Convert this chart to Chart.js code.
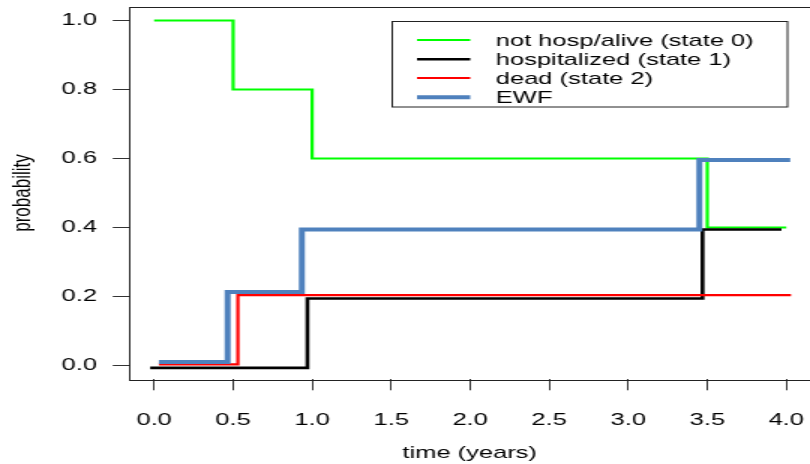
<!DOCTYPE html>
<html>
<head>
<meta charset="utf-8">
<script src="https://cdn.jsdelivr.net/npm/chart.js@4.4.1/dist/chart.umd.min.js"></script>
<style>
  html, body { margin: 0; padding: 0; background: #fff; overflow: hidden; }
  #wrap { width: 540px; height: 464px; transform: scaleX(1.5); transform-origin: 0 0; }
</style>
</head>
<body>
<div id="wrap"><canvas id="stateChart" width="540" height="464"></canvas></div>
<script>
// Werte (Zeit in Jahren, Wahrscheinlichkeit)
var state0Times = [0.0, 0.5, 1.0, 3.5, 4.0];
var state0Probs = [1.0, 0.8, 0.6, 0.4, 0.4];

var state1Times = [-0.025, 0.97, 3.47, 3.97];
var state1Probs = [-0.007, 0.194, 0.394, 0.394];

var state2Times = [0.03, 0.53, 4.03];
var state2Probs = [0.003, 0.204, 0.204];

var ewfTimes = [0.03, 0.465, 0.935, 3.45, 4.025];
var ewfProbs = [0.01, 0.213, 0.394, 0.596, 0.596];

var xTicks = [0.0, 0.5, 1.0, 1.5, 2.0, 2.5, 3.0, 3.5, 4.0];
var yTicks = [0.0, 0.2, 0.4, 0.6, 0.8, 1.0];

var FONT = '"Liberation Sans", Arial, Helvetica, sans-serif';

function toPoints(times, probs) {
  var pts = [];
  for (var i = 0; i < times.length; i++) {
    pts.push({ x: times[i], y: probs[i] });
  }
  return pts;
}

function makeSet(label, times, probs, color, width, order) {
  return {
    label: label,
    data: toPoints(times, probs),
    borderColor: color,
    backgroundColor: color,
    borderWidth: width,
    stepped: 'before',
    pointRadius: 0,
    fill: false,
    order: order
  };
}

// Rahmen wie bei R (rechte Kante liegt ausserhalb des Bildes)
var boxPlugin = {
  id: 'box',
  afterDatasetsDraw: function (chart) {
    var a = chart.chartArea;
    var ctx = chart.ctx;
    ctx.save();
    ctx.strokeStyle = '#222';
    ctx.lineWidth = 1;
    ctx.strokeRect(Math.round(a.left) + 0.5, Math.round(a.top) + 0.5, a.right - a.left + 20, Math.round(a.bottom - a.top));
    ctx.restore();
  }
};

// Legende mit Rahmen oben rechts
var legendPlugin = {
  id: 'boxLegend',
  afterDraw: function (chart) {
    var ctx = chart.ctx;
    var sets = chart.data.datasets;
    ctx.save();
    ctx.strokeStyle = '#222';
    ctx.lineWidth = 1;
    ctx.strokeRect(261.5, 21.5, 263.5, 85.5);
    var rows = [40, 59.3, 78, 97.3];
    ctx.font = '17px ' + FONT;
    ctx.textBaseline = 'middle';
    ctx.textAlign = 'left';
    for (var i = 0; i < sets.length; i++) {
      ctx.strokeStyle = sets[i].borderColor;
      ctx.lineWidth = sets[i].borderWidth;
      ctx.beginPath();
      ctx.moveTo(278, rows[i]);
      ctx.lineTo(313.5, rows[i]);
      ctx.stroke();
      ctx.fillStyle = '#000';
      ctx.fillText(sets[i].label, 330.5, rows[i] + 1);
    }
    ctx.restore();
  }
};

function createStateChart() {
  var ctx = document.getElementById('stateChart').getContext('2d');

  new Chart(ctx, {
    type: 'line',
    data: {
      datasets: [
        makeSet('not hosp/alive (state 0)', state0Times, state0Probs, '#00ff00', 2.2, 4),
        makeSet('hospitalized (state 1)', state1Times, state1Probs, '#000000', 2.6, 3),
        makeSet('dead (state 2)', state2Times, state2Probs, '#ff0000', 2.2, 2),
        makeSet('EWF', ewfTimes, ewfProbs, '#4f81bd', 4, 1)
      ]
    },
    options: {
      responsive: false,
      animation: false,
      devicePixelRatio: 1,
      layout: { padding: { top: 6.7, left: 0, right: 0, bottom: 0 } },
      plugins: {
        legend: { display: false },
        tooltip: { enabled: false }
      },
      scales: {
        x: {
          type: 'linear',
          min: -0.157,
          max: 4.15,
          afterBuildTicks: function (scale) {
            scale.ticks = xTicks.map(function (v) { return { value: v }; });
          },
          afterFit: function (scale) {
            scale.height = 84.7;
            scale.paddingLeft = 0;
            scale.paddingRight = 0;
          },
          border: { display: false },
          grid: { drawOnChartArea: false, drawTicks: true, tickLength: 11, color: '#333', lineWidth: 1 },
          ticks: {
            color: '#000',
            padding: 20,
            maxRotation: 0,
            autoSkip: false,
            font: { family: FONT, size: 17 },
            callback: function (v) { return v.toFixed(1); }
          },
          title: {
            display: true,
            text: 'time (years)',
            color: '#000',
            font: { family: FONT, size: 17 },
            padding: { top: 0, bottom: 0 }
          }
        },
        y: {
          min: -0.04,
          max: 1.04,
          afterBuildTicks: function (scale) {
            scale.ticks = yTicks.map(function (v) { return { value: v }; });
          },
          afterFit: function (scale) {
            scale.width = 86.2;
            scale.paddingTop = 0;
            scale.paddingBottom = 0;
          },
          border: { display: false },
          grid: { drawOnChartArea: false, drawTicks: true, tickLength: 11, color: '#333', lineWidth: 1 },
          ticks: {
            color: '#000',
            padding: 10.5,
            autoSkip: false,
            font: { family: FONT, size: 17 },
            callback: function (v) { return v.toFixed(1); }
          },
          title: {
            display: true,
            text: 'probability',
            color: '#000',
            font: { family: FONT, size: 17 },
            padding: { top: 5, bottom: 0 }
          }
        }
      }
    },
    plugins: [boxPlugin, legendPlugin]
  });
}

createStateChart();
</script>
</body>
</html>
